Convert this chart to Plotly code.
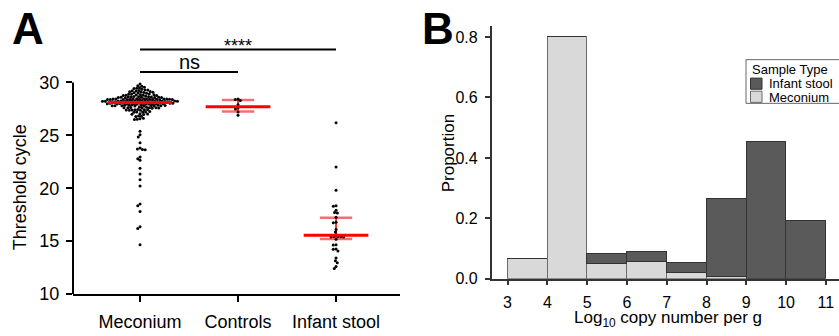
import plotly.graph_objects as go
import numpy as np

# ---------------- data ----------------
categories = ["Meconium", "Controls", "Infant stool"]

meconium_ct = [
    29.85,
    29.65, 29.7,
    29.45, 29.5, 29.42, 29.55,
    29.25, 29.3, 29.2, 29.28, 29.35, 29.22,
    29.05, 29.1, 29.0, 29.08, 29.12, 28.98, 29.02, 29.15,
    28.85, 28.8, 28.9, 28.78, 28.82, 28.88, 28.76, 28.84, 28.92, 28.8,
    28.62, 28.6, 28.65, 28.58, 28.7, 28.55, 28.64, 28.6, 28.68, 28.57, 28.63, 28.61, 28.66, 28.59,
    28.45, 28.4, 28.42, 28.38, 28.44, 28.41, 28.39, 28.43, 28.46, 28.37, 28.4, 28.42, 28.45, 28.38,
    28.41, 28.44, 28.36, 28.43, 28.4, 28.47,
    28.25, 28.2, 28.22, 28.18, 28.24, 28.21, 28.19, 28.23, 28.26, 28.17, 28.2, 28.22, 28.25, 28.18,
    28.21, 28.24, 28.16, 28.23, 28.2, 28.27, 28.19, 28.22,
    28.05, 28.0, 28.02, 27.98, 28.04, 28.01, 27.99, 28.03, 28.06, 27.97, 28.0, 28.02, 28.05, 27.98,
    28.01, 28.04, 27.96, 28.03,
    27.85, 27.8, 27.82, 27.78, 27.84, 27.81, 27.79, 27.83, 27.86, 27.77, 27.8, 27.82, 27.85, 27.78,
    27.62, 27.6, 27.58, 27.65, 27.61, 27.57, 27.63, 27.6, 27.66, 27.59,
    27.42, 27.4, 27.38, 27.45, 27.41, 27.37, 27.43, 27.4,
    27.2, 27.22, 27.18, 27.25, 27.21,
    27.0, 27.02, 26.98, 27.04,
    26.82, 26.8, 26.78,
    26.62, 26.58,
    26.5, 26.52,
    25.4, 25.05, 24.85, 24.3, 23.8, 23.67, 23.65, 23.7, 22.95, 22.8, 22.65,
    21.9, 21.35, 20.8, 20.2, 18.5, 18.35, 17.8, 16.35, 16.2, 14.65,
]
controls_ct = [28.45, 28.4, 28.3, 27.9, 27.6, 27.5, 27.2, 26.9]
infant_ct = [
    26.2, 22.0, 19.8, 18.35, 18.3, 17.92, 17.7, 17.66, 17.25, 16.78, 16.74,
    16.1, 15.85, 15.6, 15.42, 15.4, 15.41, 15.39, 15.43, 15.17, 14.66, 14.64,
    14.26, 14.24, 14.07, 13.4, 13.15, 12.96, 12.6, 12.4,
]
group_values = [meconium_ct, controls_ct, infant_ct]
group_median = [28.1, 27.7, 15.55]
group_q1 = [27.9, 27.25, 15.2]
group_q3 = [28.4, 28.35, 17.2]

bin_left = [3, 4, 5, 6, 7, 8, 9, 10]
meconium_prop = [0.065, 0.80, 0.049, 0.057, 0.021, 0.005, 0.0, 0.0]
infant_prop = [0.0, 0.0, 0.033, 0.033, 0.032, 0.26, 0.452, 0.193]
bin_labels = ["3", "4", "5", "6", "7", "8", "9", "10", "11"]

# ---------------- layout constants ----------------
W, H = 839, 336
FONT = "Liberation Sans, Arial, sans-serif"
xa_dom = [0.087, 0.4768]
xa_rng = [-0.684, 2.653]
ya_dom = [0.0982, 1.0]
ya_rng = [10, 37.8]

px_per_x = W * (xa_dom[1] - xa_dom[0]) / (xa_rng[1] - xa_rng[0])
px_per_y = H * (ya_dom[1] - ya_dom[0]) / (ya_rng[1] - ya_rng[0])


def swarm(vals, d=2.8):
    """Beeswarm offsets (in x data units) for the given values."""
    order = sorted(range(len(vals)), key=lambda i: -vals[i])
    placed = []
    offs = [0.0] * len(vals)
    for i in order:
        y = vals[i] * px_per_y
        neigh = [(px, py) for px, py in placed if abs(py - y) < d]
        cands = [0.0]
        for px, py in neigh:
            dx = np.sqrt(d * d - (py - y) ** 2)
            cands += [px + dx, px - dx]
        cands.sort(key=lambda c: (abs(c), c))
        best = 0.0
        for c in cands:
            ok = all((c - px) ** 2 + (y - py) ** 2 >= d * d - 1e-6 for px, py in neigh)
            if ok:
                best = c
                break
        placed.append((best, y))
        offs[i] = best / px_per_x
    return offs


fig = go.Figure()

# whiskers (under points)
for k in range(3):
    wcol = "#f07070"
    for yv in (group_q1[k], group_q3[k]):
        fig.add_trace(go.Scatter(x=[k - 0.165, k + 0.165], y=[yv, yv], mode="lines",
                                 line=dict(color=wcol, width=2.5), xaxis="x", yaxis="y",
                                 showlegend=False, hoverinfo="skip"))
    fig.add_trace(go.Scatter(x=[k, k], y=[group_q1[k], group_q3[k]], mode="lines",
                             line=dict(color="#ee3333", width=2), xaxis="x", yaxis="y",
                             showlegend=False, hoverinfo="skip"))

# points
for k, vals in enumerate(group_values):
    offs = swarm(vals)
    fig.add_trace(go.Scatter(x=[k + o for o in offs], y=vals, mode="markers",
                             marker=dict(color="black", size=3), xaxis="x", yaxis="y",
                             showlegend=False, hoverinfo="skip"))

# medians
for k in range(3):
    fig.add_trace(go.Scatter(x=[k - 0.33, k + 0.33], y=[group_median[k]] * 2, mode="lines",
                             line=dict(color="#ff0000", width=3), xaxis="x", yaxis="y",
                             showlegend=False, hoverinfo="skip"))

# ---------------- panel B ----------------
centers = [b + 0.5 for b in bin_left]
fig.add_trace(go.Bar(x=centers, y=meconium_prop, width=1, xaxis="x2", yaxis="y2",
                     marker=dict(color="#d9d9d9", line=dict(color="#6a6a6a", width=1)),
                     name="Meconium", showlegend=False))
fig.add_trace(go.Bar(x=centers, y=infant_prop, width=1, xaxis="x2", yaxis="y2",
                     marker=dict(color="#5a5a5a", line=dict(color="#333333", width=1)),
                     name="Infant stool", showlegend=False))

shapes = [
    # panel A y axis line (only 10 to 30)
    dict(type="line", xref="x domain", yref="y", x0=0, x1=0, y0=10, y1=30,
         line=dict(color="black", width=2)),
    # significance bars
    dict(type="line", xref="x", yref="y", x0=0, x1=1, y0=31.0, y1=31.0,
         line=dict(color="black", width=2)),
    dict(type="line", xref="x", yref="y", x0=0, x1=2, y0=33.12, y1=33.12,
         line=dict(color="black", width=2)),
    # legend box
    dict(type="rect", xref="paper", yref="paper", x0=746 / W, x1=1.02,
         y0=(H - 106.5) / H, y1=(H - 61.5) / H, line=dict(color="#666666", width=1),
         fillcolor="white", layer="above"),
    dict(type="rect", xref="paper", yref="paper", x0=750.5 / W, x1=762 / W,
         y0=(H - 92) / H, y1=(H - 80.5) / H, line=dict(color="#333333", width=1),
         fillcolor="#5a5a5a", layer="above"),
    dict(type="rect", xref="paper", yref="paper", x0=750.5 / W, x1=762 / W,
         y0=(H - 105.5) / H, y1=(H - 94) / H, line=dict(color="#6a6a6a", width=1),
         fillcolor="#d9d9d9", layer="above"),
]


def A(text, x, y, size, xref="paper", yref="paper", xanchor="center", yanchor="middle", **kw):
    return dict(text=text, x=x, y=y, xref=xref, yref=yref, xanchor=xanchor,
                yanchor=yanchor, showarrow=False,
                font=dict(size=size, color="black", family=FONT), **kw)


ann = [
    A("<b>A</b>", 27.5 / W, (H - 29) / H, 44),
    A("<b>B</b>", 437.5 / W, (H - 29) / H, 44),
    A("ns", 0.5, 31.93, 20, xref="x", yref="y"),
    A("****", 1, 33.49, 18, xref="x", yref="y"),
    A("Threshold cycle", 20 / W, (H - 193) / H, 18, textangle=-90),
    A("Proportion", 448 / W, (H - 158) / H, 17, textangle=-90),
    A("Log<sub>10</sub> copy number per g", 668 / W, (H - 329) / H, 17),
    A("Sample Type", 749.5 / W, (H - 72) / H, 13, xanchor="left"),
    A("Infant stool", 767 / W, (H - 86.5) / H, 13, xanchor="left"),
    A("Meconium", 767 / W, (H - 100) / H, 13, xanchor="left"),
]

fig.update_layout(
    width=W, height=H, margin=dict(l=0, r=0, t=0, b=0),
    paper_bgcolor="white", plot_bgcolor="white",
    font=dict(family=FONT, color="black"),
    barmode="stack", bargap=0,
    shapes=shapes, annotations=ann,
    xaxis=dict(domain=xa_dom, range=xa_rng, anchor="y", showline=True, linecolor="black",
               linewidth=2, ticks="outside", ticklen=6, tickwidth=2, tickcolor="black",
               tickvals=[0, 1, 2], ticktext=categories, tickfont=dict(size=18),
               ticklabelstandoff=4, showgrid=False, zeroline=False),
    yaxis=dict(domain=ya_dom, range=ya_rng, anchor="x", showline=False, ticks="outside",
               ticklen=6, tickwidth=2, tickcolor="black", tickvals=[10, 15, 20, 25, 30],
               tickfont=dict(size=18), ticklabelstandoff=3, showgrid=False, zeroline=False),
    xaxis2=dict(domain=[0.586, 1.0], range=[2.6, 11.33], anchor="y2", showline=True,
                linecolor="#333333", linewidth=1.5, ticks="outside", ticklen=5, tickwidth=1.5,
                tickcolor="#333333", tickvals=list(range(3, 12)), ticktext=bin_labels,
                tickfont=dict(size=16), ticklabelstandoff=3, showgrid=False, zeroline=False),
    yaxis2=dict(domain=[0.145, 0.9206], range=[0, 0.837], anchor="x2", showline=True,
                linecolor="#333333", linewidth=1.5, ticks="outside", ticklen=5, tickwidth=1.5,
                tickcolor="#333333", tickvals=[0, 0.2, 0.4, 0.6, 0.8],
                ticktext=["0.0", "0.2", "0.4", "0.6", "0.8"], tickfont=dict(size=16),
                ticklabelstandoff=4, showgrid=False, zeroline=False),
)

# no page margin / scrolling around the figure
post = (
    "document.documentElement.style.margin='0';"
    "document.documentElement.style.overflow='hidden';"
    "document.body.style.margin='0';"
    "document.body.style.overflow='hidden';"
)
fig.write_html("out.html", config={"displayModeBar": False}, post_script=post)
